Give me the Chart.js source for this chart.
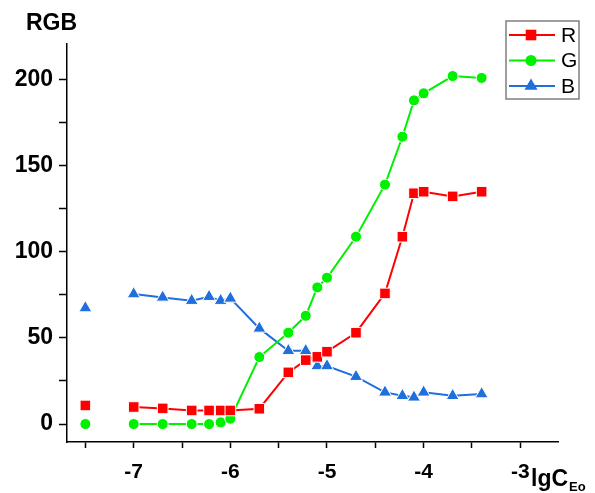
<!DOCTYPE html>
<html lang="en">
<head>
  <meta charset="UTF-8">
  <title>RGB vs lgC</title>
  <script src="https://cdn.jsdelivr.net/npm/chart.js"></script>
  <style>
    body { margin: 0; background: #ffffff; }
    #wrap { width: 595px; height: 493px; }
  </style>
</head>
<body>
  <div id="wrap"><canvas id="rgbChart" width="595" height="493"></canvas></div>

  <script>
    // lgC values (x) shared by all three series
    const lgC = [-7.5, -7.0, -6.7, -6.4, -6.22, -6.1, -6.0, -5.7, -5.4, -5.22,
                 -5.1, -5.0, -4.7, -4.4, -4.22, -4.1, -4.0, -3.7, -3.4];
    const rVals = [10.8, 9.9, 9.1, 7.9, 7.9, 7.9, 7.9, 8.9, 30, 37.1,
                   39, 42, 53, 75.8, 108.7, 133.9, 134.8, 132.1, 134.8];
    const gVals = [0, 0, 0, 0, 0, 1, 3.1, 38.9, 53, 62.8,
                   79.3, 84.9, 108.7, 138.9, 166.7, 187.8, 191.9, 201.9, 200.8];
    const bVals = [67.3, 75.4, 73.5, 71.6, 73.9, 71.6, 72.9, 55.5, 42.5, 42.5,
                   33.7, 33.7, 27.5, 18.4, 16.4, 15.5, 18.4, 16.4, 17.4];
    const xLabels = [-7, -6, -5, -4, -3];
    const yLabels = [0, 50, 100, 150, 200];

    const FONT = 'Arial, "Liberation Sans", sans-serif';
    const RED = '#ff0000', GREEN = '#00f000', BLUE = '#1f6fdc';

    const toPoints = vals => vals.map((v, i) => ({ x: lgC[i], y: v }));

    // the first point stands alone in the picture, so its segment is hidden
    const hideFirst = { borderColor: c => c.p0DataIndex === 0 ? 'rgba(0,0,0,0)' : undefined };

    function series(label, vals, color, style, radius) {
      return {
        label: label,
        data: toPoints(vals),
        showLine: true,
        borderColor: color,
        backgroundColor: color,
        borderWidth: 2,
        pointStyle: style,
        pointRadius: radius,
        pointHoverRadius: radius,
        pointBorderColor: '#ffffff',
        pointBorderWidth: 1,
        segment: hideFirst
      };
    }

    // axis titles and the boxed legend
    const decorations = {
      id: 'decorations',
      afterDraw(chart) {
        const c = chart.ctx;
        c.save();
        c.fillStyle = '#000';
        c.textBaseline = 'middle';
        c.font = 'bold 23px ' + FONT;
        c.textAlign = 'left';
        c.fillText('RGB', 26, 24);
        c.textBaseline = 'alphabetic';
        c.fillText('lgC', 531, 486);
        c.font = 'bold 13px ' + FONT;
        c.fillText('Eo', 569, 491);

        // legend
        c.strokeStyle = '#7f7f7f';
        c.lineWidth = 1.5;
        c.strokeRect(506, 21, 73, 78);
        const items = [['R', RED, 'rect', 7.5], ['G', GREEN, 'circle', 5.5], ['B', BLUE, 'triangle', 7.5]];
        items.forEach((it, i) => {
          const y = 35 + i * 25.5;
          c.strokeStyle = it[1];
          c.lineWidth = 2;
          c.beginPath();
          c.moveTo(509, y);
          c.lineTo(555, y);
          c.stroke();
          c.fillStyle = it[1];
          Chart.helpers.drawPoint(c, { pointStyle: it[2], radius: it[3], borderWidth: 0 }, 531, y);
          c.fillStyle = '#000';
          c.font = '21px ' + FONT;
          c.textBaseline = 'middle';
          c.fillText(it[0], 561, y + 1);
        });
        c.restore();
      }
    };

    new Chart(document.getElementById('rgbChart').getContext('2d'), {
      type: 'scatter',
      data: {
        datasets: [
          series('R', rVals, RED, 'rect', 7.5),
          series('G', gVals, GREEN, 'circle', 5.5),
          series('B', bVals, BLUE, 'triangle', 7.5)
        ]
      },
      options: {
        responsive: false,
        animation: false,
        layout: { padding: { top: 44, right: 37, left: 0, bottom: 0 } },
        plugins: {
          legend: { display: false },
          tooltip: { enabled: false }
        },
        scales: {
          x: {
            type: 'linear',
            min: -7.69,
            max: -2.61,
            afterFit: s => { s.height = 51; },
            border: { color: '#000', width: 1.5 },
            grid: {
              drawOnChartArea: false,
              tickLength: 6,
              tickColor: '#000',
              tickWidth: 1.5
            },
            ticks: {
              stepSize: 0.5,
              includeBounds: false,
              maxRotation: 0,
              autoSkip: false,
              padding: 12,
              color: '#000',
              font: { family: FONT, size: 21, weight: 'bold' },
              callback: v => xLabels.includes(v) ? String(v) : ''
            }
          },
          y: {
            type: 'linear',
            min: -10.4,
            max: 220.5,
            afterFit: s => { s.width = 67; },
            border: { color: '#000', width: 1.5 },
            grid: {
              drawOnChartArea: false,
              tickLength: 8,
              tickColor: '#000',
              tickWidth: 1.5
            },
            ticks: {
              stepSize: 25,
              includeBounds: false,
              autoSkip: false,
              padding: 6,
              color: '#000',
              font: { family: FONT, size: 23, weight: 'bold' },
              callback: v => yLabels.includes(v) ? String(v) : ''
            }
          }
        }
      },
      plugins: [decorations]
    });
  </script>
</body>
</html>
